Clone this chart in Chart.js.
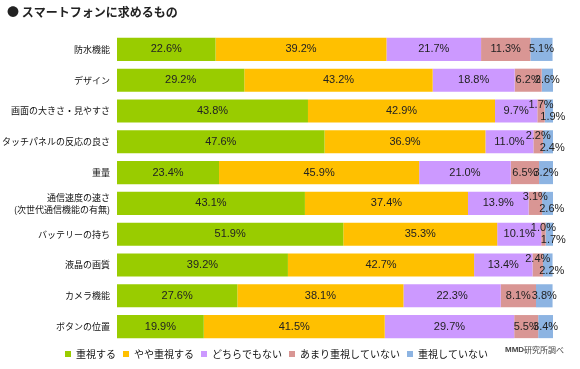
<!DOCTYPE html>
<html lang="ja">
<head>
<meta charset="utf-8">
<title>スマートフォンに求めるもの</title>
<script src="https://cdn.jsdelivr.net/npm/chart.js@4/dist/chart.umd.min.js"></script>
<style>
    html, body { margin: 0; padding: 0; background: #fff; }
    #wrap { width: 580px; height: 369px; position: relative; }
</style>
</head>
<body>
<div id="wrap"><canvas id="needsChart"></canvas></div>
<script>
// Survey items (top to bottom)
const categories = [
    '防水機能',
    'デザイン',
    '画面の大きさ・見やすさ',
    'タッチパネルの反応の良さ',
    '重量',
    ['通信速度の速さ', '(次世代通信機能の有無)'],
    'バッテリーの持ち',
    '液晶の画質',
    'カメラ機能',
    'ボタンの位置'
];

const seriesNames = ['重視する', 'やや重視する', 'どちらでもない', 'あまり重視していない', '重視していない'];

// Percentages per answer
const veryImportant = [22.6, 29.2, 43.8, 47.6, 23.4, 43.1, 51.9, 39.2, 27.6, 19.9];
const somewhatImportant = [39.2, 43.2, 42.9, 36.9, 45.9, 37.4, 35.3, 42.7, 38.1, 41.5];
const neutral = [21.7, 18.8, 9.7, 11.0, 21.0, 13.9, 10.1, 13.4, 22.3, 29.7];
const notVeryImportant = [11.3, 6.2, 1.7, 2.2, 6.5, 3.1, 1.0, 2.4, 8.1, 5.5];
const notImportant = [5.1, 2.6, 1.9, 2.4, 3.2, 2.6, 1.7, 2.2, 3.8, 3.4];

const seriesColors = ['#99CC00', '#FFC000', '#CC99FF', '#D99694', '#8DB4E2'];

const JP_FONT = '"Noto Sans CJK JP", "Noto Sans", sans-serif';
const NUM_FONT = '"Liberation Sans", Arial, sans-serif';

// Percent labels inside each slice; thin slices get split above / below the bar
const segmentLabels = {
    id: 'segmentLabels',
    afterDatasetsDraw(chart) {
        const ctx = chart.ctx;
        ctx.save();
        ctx.font = '11px ' + NUM_FONT;
        ctx.fillStyle = '#222';
        ctx.textAlign = 'center';
        ctx.textBaseline = 'middle';
        chart.data.datasets.forEach((ds, di) => {
            chart.getDatasetMeta(di).data.forEach((bar, i) => {
                let x = (bar.x + bar.base) / 2;
                let y = bar.y;
                if (notVeryImportant[i] < 4) {
                    if (di === 3) y -= 6;
                    if (di === 4) { y += 6; x += 4; }
                }
                ctx.fillText(ds.data[i].toFixed(1) + '%', x, y);
            });
        });
        ctx.restore();
    }
};

// Heading top left and source note bottom right
const headerFooter = {
    id: 'headerFooter',
    afterDraw(chart) {
        const ctx = chart.ctx;
        ctx.save();
        ctx.textBaseline = 'middle';
        ctx.textAlign = 'left';
        ctx.fillStyle = '#222';
        ctx.font = 'bold 12px ' + JP_FONT;
        ctx.fillText('● スマートフォンに求めるもの', 7, 12);

        ctx.fillStyle = '#444';
        ctx.font = 'bold 8px ' + NUM_FONT;
        const x = 505;
        ctx.fillText('MMD', x, 350);
        const w = ctx.measureText('MMD').width;
        ctx.font = '8px ' + JP_FONT;
        ctx.fillText('研究所調べ', x + w, 350);
        ctx.restore();
    }
};

function buildDatasets() {
    const values = [veryImportant, somewhatImportant, neutral, notVeryImportant, notImportant];
    return values.map((data, i) => ({
        label: seriesNames[i],
        data: data,
        backgroundColor: seriesColors[i],
        borderWidth: 0,
        barPercentage: 0.75,
        categoryPercentage: 1
    }));
}

new Chart(document.getElementById('needsChart'), {
    type: 'bar',
    data: {
        labels: categories,
        datasets: buildDatasets()
    },
    options: {
        indexAxis: 'y',
        responsive: true,
        maintainAspectRatio: false,
        animation: false,
        devicePixelRatio: 1,
        layout: {
            padding: { left: 0, right: 27, top: 34, bottom: 0 }
        },
        plugins: {
            title: { display: false },
            legend: {
                position: 'bottom',
                labels: {
                    boxWidth: 6,
                    boxHeight: 6,
                    padding: 7,
                    color: '#111',
                    font: { family: JP_FONT, size: 10 }
                }
            },
            tooltip: { enabled: false }
        },
        scales: {
            x: {
                stacked: true,
                min: 0,
                max: 100,
                display: false
            },
            y: {
                stacked: true,
                grid: { display: false, drawTicks: false },
                border: { display: false },
                ticks: {
                    color: '#111',
                    padding: 7,
                    font: { family: JP_FONT, size: 9, lineHeight: 1.3 }
                },
                afterFit: function(scale) {
                    scale.width = 117;
                }
            }
        }
    },
    plugins: [segmentLabels, headerFooter]
});
</script>
</body>
</html>
